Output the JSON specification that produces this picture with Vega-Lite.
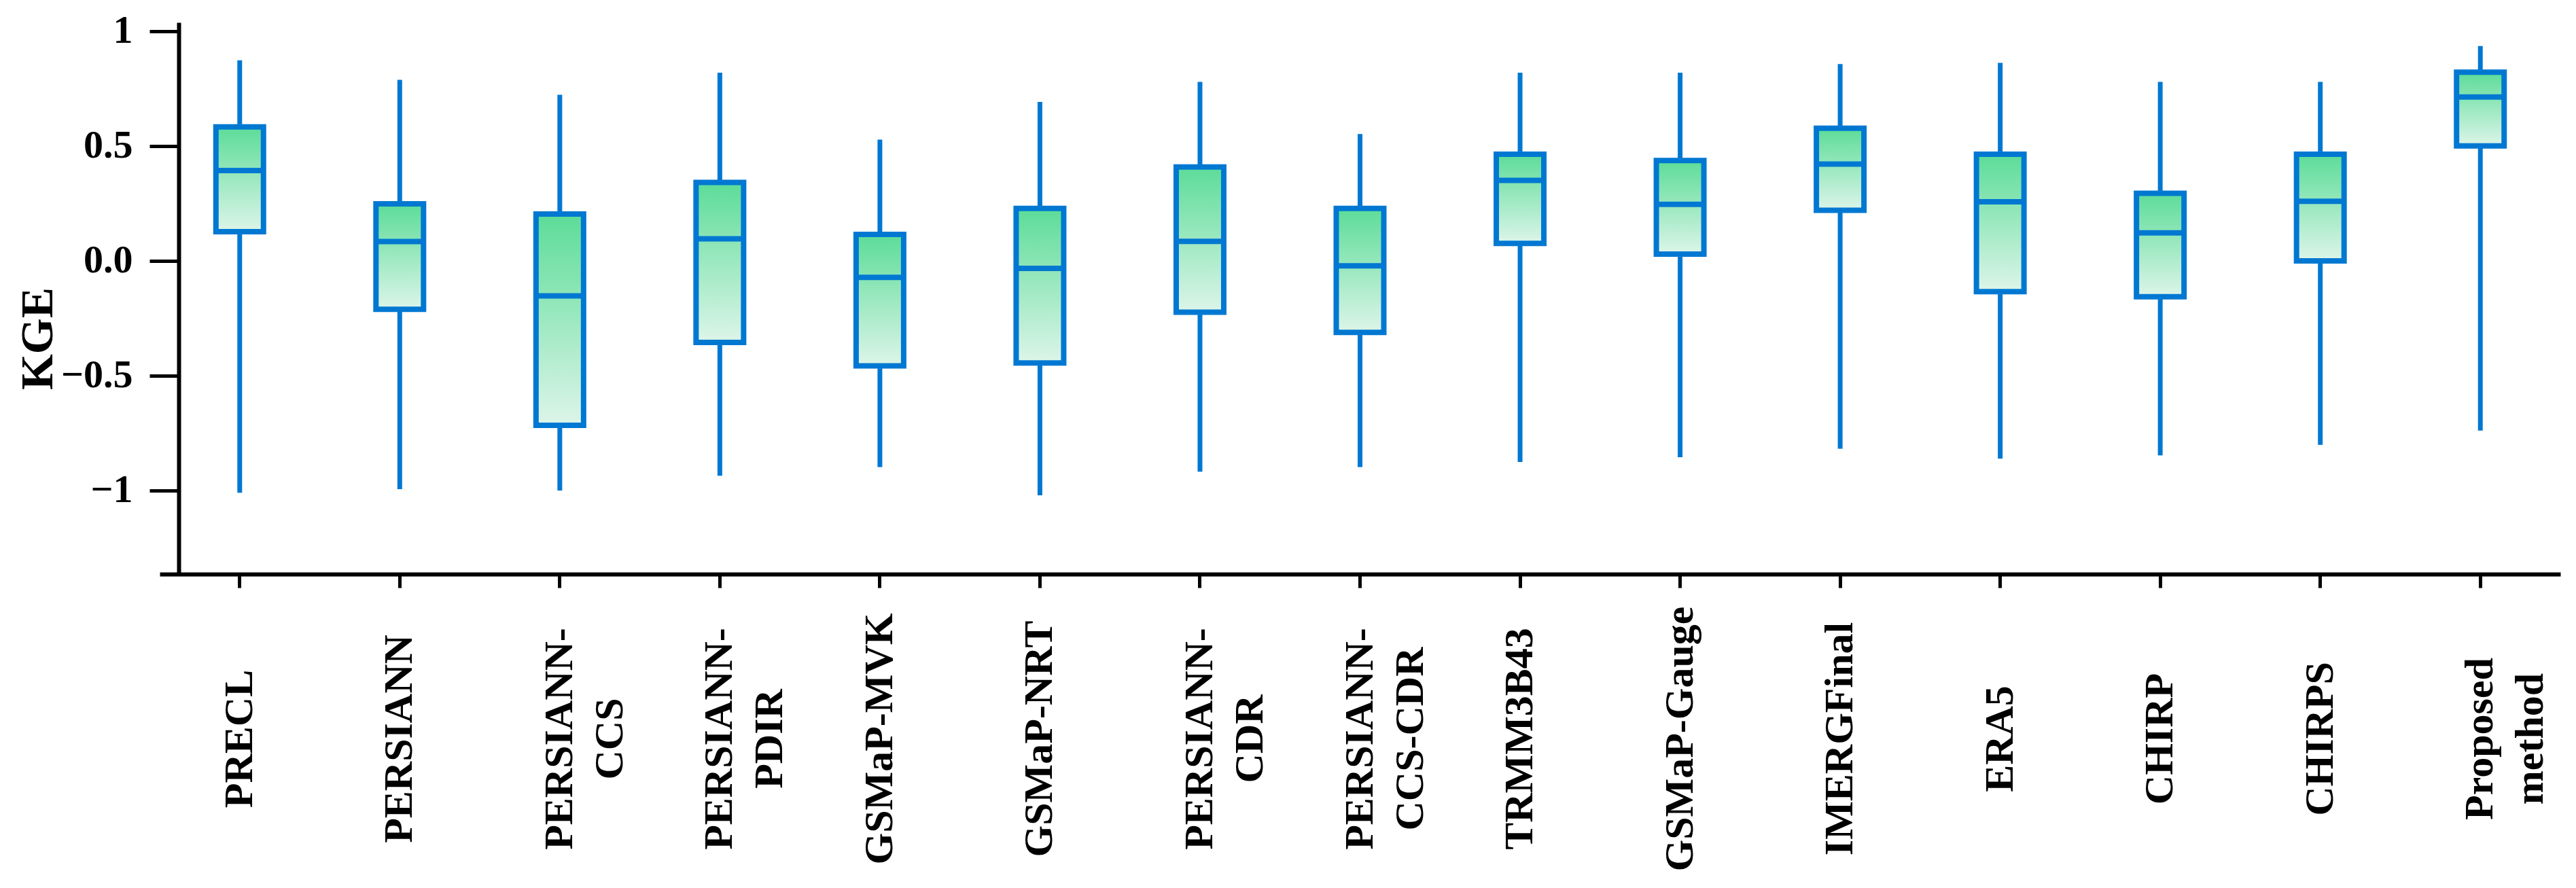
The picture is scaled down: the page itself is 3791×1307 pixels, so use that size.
{
  "$schema": "https://vega.github.io/schema/vega-lite/v6.json",
  "autosize": {"type": "none"},
  "padding": {"left": 235, "top": 33, "right": 23, "bottom": 462},
  "width": 3533,
  "height": 812,
  "background": "white",
  "config": {"view": {"stroke": null}},
  "data": {
    "values": [
      {"product": "PRECL", "lo": -1.01, "q1": 0.127, "med": 0.393, "q3": 0.583, "hi": 0.873},
      {"product": "PERSIANN", "lo": -0.994, "q1": -0.211, "med": 0.084, "q3": 0.248, "hi": 0.788},
      {"product": "PERSIANN-CCS", "lo": -1.0, "q1": -0.716, "med": -0.153, "q3": 0.204, "hi": 0.723},
      {"product": "PERSIANN-PDIR", "lo": -0.936, "q1": -0.355, "med": 0.096, "q3": 0.341, "hi": 0.819},
      {"product": "GSMaP-MVK", "lo": -0.898, "q1": -0.457, "med": -0.072, "q3": 0.115, "hi": 0.528},
      {"product": "GSMaP-NRT", "lo": -1.021, "q1": -0.445, "med": -0.033, "q3": 0.228, "hi": 0.692},
      {"product": "PERSIANN-CDR", "lo": -0.918, "q1": -0.224, "med": 0.085, "q3": 0.409, "hi": 0.779},
      {"product": "PERSIANN-CCS-CDR", "lo": -0.898, "q1": -0.312, "med": -0.022, "q3": 0.228, "hi": 0.552},
      {"product": "TRMM3B43", "lo": -0.876, "q1": 0.076, "med": 0.35, "q3": 0.464, "hi": 0.819},
      {"product": "GSMaP-Gauge", "lo": -0.855, "q1": 0.029, "med": 0.246, "q3": 0.437, "hi": 0.819},
      {"product": "IMERGFinal", "lo": -0.818, "q1": 0.22, "med": 0.421, "q3": 0.577, "hi": 0.857},
      {"product": "ERA5", "lo": -0.861, "q1": -0.134, "med": 0.257, "q3": 0.464, "hi": 0.862},
      {"product": "CHIRP", "lo": -0.847, "q1": -0.156, "med": 0.122, "q3": 0.294, "hi": 0.779},
      {"product": "CHIRPS", "lo": -0.801, "q1": 0.0, "med": 0.259, "q3": 0.464, "hi": 0.779},
      {"product": "Proposed method", "lo": -0.739, "q1": 0.5, "med": 0.713, "q3": 0.821, "hi": 0.935}
    ]
  },
  "encoding": {
    "x": {
      "field": "product",
      "type": "nominal",
      "sort": null,
      "scale": {"paddingInner": 0, "paddingOuter": 0},
      "axis": {
        "title": null,
        "domainColor": "black",
        "domainWidth": 6,
        "tickColor": "black",
        "tickWidth": 5,
        "tickSize": 20,
        "labelAngle": -90,
        "labelAlign": "center",
        "labelBaseline": "middle",
        "labelPadding": 222,
        "labelFont": "Liberation Serif",
        "labelFontWeight": "bold",
        "labelFontSize": 60,
        "labelLineHeight": 74,
        "labelColor": "black",
        "labelLimit": 0,
        "labelExpr": "datum.value == 'PERSIANN-CCS' ? ['PERSIANN-', 'CCS'] : datum.value == 'PERSIANN-PDIR' ? ['PERSIANN-', 'PDIR'] : datum.value == 'PERSIANN-CDR' ? ['PERSIANN-', 'CDR'] : datum.value == 'PERSIANN-CCS-CDR' ? ['PERSIANN-', 'CCS-CDR'] : datum.value == 'Proposed method' ? ['Proposed', 'method'] : datum.value"
      }
    }
  },
  "layer": [
    {
      "mark": {"type": "rule", "color": "#0078D2", "strokeWidth": 7, "opacity": 1},
      "encoding": {
        "y": {
          "field": "lo",
          "type": "quantitative",
          "scale": {"domain": [-1.364, 1.038], "nice": false, "zero": false},
          "axis": {
            "title": "KGE",
            "offset": -28,
            "values": [-1, -0.5, 0, 0.5, 1],
            "grid": false,
            "domainColor": "black",
            "domainWidth": 6,
            "tickColor": "black",
            "tickWidth": 5,
            "tickSize": 43,
            "labelPadding": 25,
            "labelFont": "Liberation Serif",
            "labelFontWeight": "bold",
            "labelFontSize": 58,
            "labelColor": "black",
            "labelBaseline": "middle",
            "labelExpr": "datum.value == 1 ? '1' : datum.value == -1 ? '\u22121' : replace(format(datum.value, '.1f'), '-', '\u2212')",
            "titleFont": "Liberation Serif",
            "titleFontWeight": "bold",
            "titleFontSize": 68,
            "titleColor": "black",
            "titleAngle": -90,
            "titleAlign": "center",
            "titleBaseline": "middle",
            "titleX": -207,
            "titleY": 465
          }
        },
        "y2": {"field": "hi"}
      }
    },
    {
      "mark": {
        "type": "bar",
        "size": 70,
        "stroke": "#0078D2",
        "strokeWidth": 8,
        "opacity": 1,
        "fill": {
          "x1": 0, "y1": 0, "x2": 0, "y2": 1,
          "gradient": "linear",
          "stops": [
            {"offset": 0, "color": "#5CDC98"},
            {"offset": 1, "color": "#DDF5E9"}
          ]
        }
      },
      "encoding": {
        "y": {"field": "q3", "type": "quantitative"},
        "y2": {"field": "q1"}
      }
    },
    {
      "mark": {"type": "tick", "color": "#0078D2", "size": 74, "thickness": 8, "opacity": 1},
      "encoding": {
        "y": {"field": "med", "type": "quantitative"}
      }
    }
  ]
}
